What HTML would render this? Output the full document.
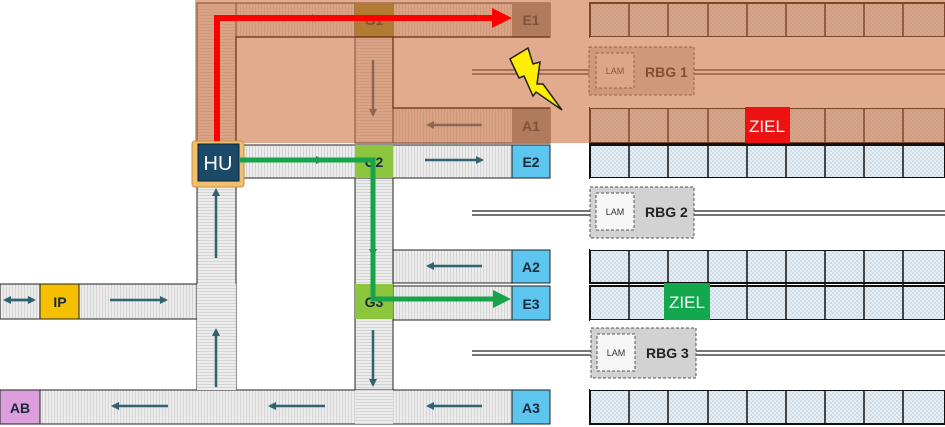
<!DOCTYPE html>
<html><head><meta charset="utf-8"><style>html,body{margin:0;padding:0;background:#fff}svg{display:block}</style></head>
<body>
<svg width="945" height="427" viewBox="0 0 945 427" xmlns="http://www.w3.org/2000/svg" font-family="Liberation Sans, sans-serif">
<defs>
<pattern id="vs" width="3" height="3" patternUnits="userSpaceOnUse"><rect width="3" height="3" fill="#ececec"/><rect width="1" height="3" fill="#d4d4d4"/></pattern>
<pattern id="hs" width="3" height="3" patternUnits="userSpaceOnUse"><rect width="3" height="3" fill="#ececec"/><rect width="3" height="1" fill="#d4d4d4"/></pattern>
<pattern id="rk" width="4" height="4" patternUnits="userSpaceOnUse"><rect width="4" height="4" fill="#e4eef4"/><rect width="2" height="2" fill="#d0dde6"/><rect x="2" y="2" width="2" height="2" fill="#d0dde6"/></pattern>
<marker id="ah" markerWidth="8" markerHeight="8" refX="6" refY="4" orient="auto" markerUnits="userSpaceOnUse"><path d="M0,0 L8,4 L0,8 Z" fill="#2f6272"/></marker>
</defs>
<rect x="197" y="3" width="353" height="34" fill="url(#vs)" stroke="#222"/>
<rect x="197" y="3" width="39" height="140" fill="url(#hs)" stroke="#222"/>
<rect x="355" y="3" width="38" height="140" fill="url(#hs)" stroke="#222"/>
<rect x="393" y="108" width="157" height="35" fill="url(#vs)" stroke="#222"/>
<rect x="236" y="145" width="314" height="33" fill="url(#vs)" stroke="#222"/>
<rect x="197" y="178" width="39" height="212" fill="url(#hs)" stroke="#222"/>
<rect x="355" y="178" width="38" height="246" fill="url(#hs)" stroke="#222"/>
<rect x="393" y="250" width="157" height="33" fill="url(#vs)" stroke="#222"/>
<rect x="393" y="286" width="157" height="34" fill="url(#vs)" stroke="#222"/>
<rect x="0" y="284" width="197" height="35" fill="url(#vs)" stroke="#222"/>
<rect x="0" y="390" width="550" height="34" fill="url(#vs)" stroke="#222"/>
<rect x="197" y="284" width="39" height="106" fill="url(#hs)"/>
<rect x="355" y="390" width="38" height="34" fill="url(#hs)"/>
<rect x="512" y="3" width="38" height="34" fill="#8a8a8a"/>
<rect x="512" y="108" width="38" height="35" fill="#8a8a8a"/>
<rect x="355" y="3" width="38" height="34" fill="#8f8a2a"/>
<rect x="512" y="145" width="38" height="33" fill="#5cc6ee" stroke="#222"/>
<rect x="512" y="250" width="38" height="33" fill="#5cc6ee" stroke="#222"/>
<rect x="512" y="286" width="38" height="34" fill="#5cc6ee" stroke="#222"/>
<rect x="512" y="390" width="38" height="34" fill="#5cc6ee" stroke="#222"/>
<rect x="355" y="145" width="38" height="33" fill="#8cc63e"/>
<rect x="355" y="284" width="38" height="35" fill="#8cc63e"/>
<rect x="40" y="284" width="39" height="35" fill="#f6c000" stroke="#222"/>
<rect x="0" y="390" width="40" height="34" fill="#dc9fdc" stroke="#222"/>
<g font-weight="bold" font-size="14" fill="#1a2a3a" text-anchor="middle">
<text x="531" y="25">E1</text><text x="531" y="131">A1</text><text x="531" y="167">E2</text>
<text x="531" y="272">A2</text><text x="531" y="309">E3</text><text x="531" y="413">A3</text>
<text x="374" y="25">G1</text><text x="374" y="167">G2</text><text x="374" y="307">G3</text>
<text x="60" y="307">IP</text><text x="20" y="413">AB</text>
</g>
<g stroke="#2f6272" stroke-width="2.5" marker-end="url(#ah)">
<line x1="290" y1="18" x2="318" y2="18"/><line x1="425" y1="18" x2="480" y2="18"/>
<line x1="373" y1="60" x2="373" y2="115"/><line x1="482" y1="125" x2="428" y2="125"/>
<line x1="282" y1="160" x2="322" y2="160"/><line x1="425" y1="160" x2="482" y2="160"/>
<line x1="216" y1="258" x2="216" y2="190"/><line x1="373" y1="220" x2="373" y2="255"/>
<line x1="482" y1="266" x2="428" y2="266"/><line x1="110" y1="300" x2="166" y2="300"/>
<line x1="216" y1="387" x2="216" y2="330"/><line x1="373" y1="330" x2="373" y2="385"/>
<line x1="168" y1="406" x2="113" y2="406"/><line x1="325" y1="406" x2="270" y2="406"/>
<line x1="482" y1="406" x2="428" y2="406"/>
<line x1="10" y1="300" x2="34" y2="300"/><line x1="30" y1="300" x2="5" y2="300"/>
</g>
<g stroke="#111" stroke-width="2">
<g fill="url(#rk)">
<rect x="590" y="3" width="355" height="34"/><rect x="590" y="108" width="355" height="35"/>
<rect x="590" y="145" width="355" height="33"/><rect x="590" y="250" width="355" height="33"/>
<rect x="590" y="286" width="355" height="34"/><rect x="590" y="390" width="355" height="34"/>
</g>
<path d="M629,3V424M668,3V424M708,3V424M747,3V424M786,3V424M825,3V424M864,3V424M903,3V424" stroke-width="1.5"/>
<rect x="590" y="178" width="355" height="72" fill="#fff" stroke="none"/>
<rect x="590" y="320" width="355" height="70" fill="#fff" stroke="none"/>
<rect x="590" y="37" width="355" height="71" fill="#fff" stroke="none"/>
</g>
<g stroke="#222" stroke-width="1.3">
<path d="M472,70H945M472,74H945M472,211H945M472,215H945M472,351H945M472,355H945"/>
</g>
<g>
<rect x="589" y="47" width="105" height="48" fill="#d2d2d2" stroke="#555" stroke-dasharray="3,2"/>
<rect x="596" y="53" width="38" height="35" fill="#f4f4f4" stroke="#555" stroke-dasharray="3,2"/>
<rect x="590" y="187" width="104" height="51" fill="#d2d2d2" stroke="#555" stroke-dasharray="3,2"/>
<rect x="596" y="193" width="38" height="37" fill="#f6f6f6" stroke="#555" stroke-dasharray="3,2"/>
<rect x="591" y="328" width="105" height="50" fill="#d2d2d2" stroke="#555" stroke-dasharray="3,2"/>
<rect x="597" y="334" width="38" height="37" fill="#f6f6f6" stroke="#555" stroke-dasharray="3,2"/>
<g font-size="9" fill="#333" text-anchor="middle"><text x="615" y="74">LAM</text><text x="615" y="215">LAM</text><text x="616" y="356">LAM</text></g>
<g font-size="14" font-weight="bold" fill="#222"><text x="645" y="77">RBG 1</text><text x="645" y="217">RBG 2</text><text x="646" y="358">RBG 3</text></g>
</g>
<rect x="195" y="0" width="750" height="143" fill="rgb(205,110,60)" opacity="0.58"/>
<g stroke="#6a2a10" fill="none" stroke-width="1.2">
<path d="M236,143V37H355M393,37V108H550M236,37H550"/>
</g>
<path d="M510,59 L528,48 L533,64 L540,62 L537,84 L543,84 L562,110 L536,92 L533,96 L524,76 L519,78 Z" fill="#ffee00" stroke="#222" stroke-width="1.5"/>
<rect x="192" y="141" width="52" height="46" fill="#f0c070" stroke="#c89040" rx="3"/>
<rect x="198" y="144" width="41" height="37" fill="#1b4a68" stroke="#0a2030"/>
<text x="218" y="170" font-size="20" fill="#fff" text-anchor="middle">HU</text>
<rect x="745" y="107" width="45" height="36" fill="#ee1111"/>
<text x="767" y="132" font-size="17" fill="#fff" text-anchor="middle">ZIEL</text>
<rect x="664" y="283" width="46" height="37" fill="#13a84e"/>
<text x="687" y="308" font-size="17" fill="#fff" text-anchor="middle">ZIEL</text>
<path d="M217,141V18H495" fill="none" stroke="#ff0000" stroke-width="6"/>
<path d="M492,8 L512,18 L492,28 Z" fill="#ff0000"/>
<path d="M240,160H373V299H495" fill="none" stroke="#16a34a" stroke-width="5"/>
<path d="M493,290 L511,299 L493,308 Z" fill="#16a34a"/>
</svg>
</body></html>
